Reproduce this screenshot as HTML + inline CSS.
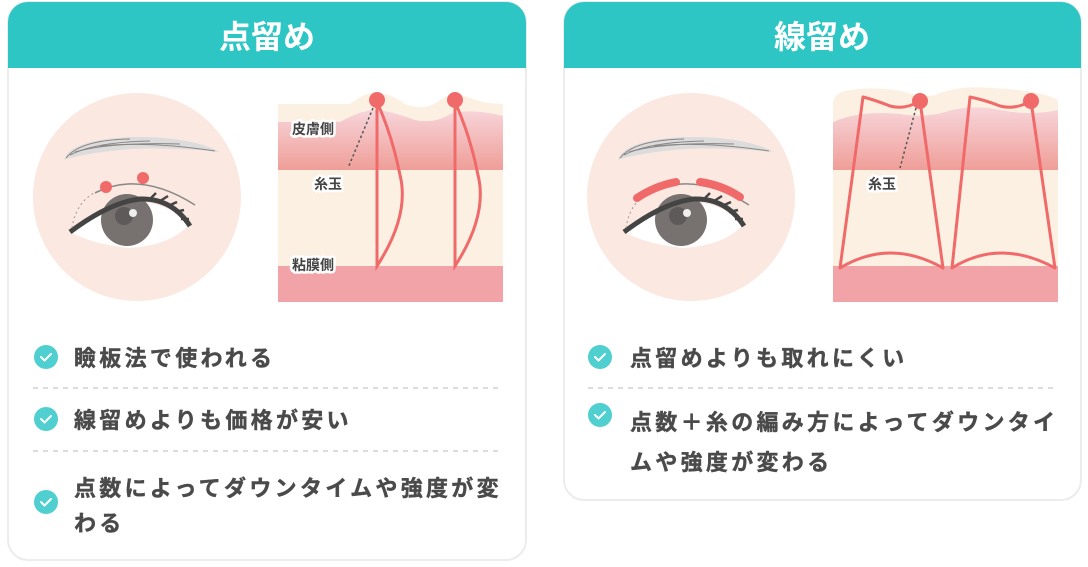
<!DOCTYPE html>
<html><head><meta charset="utf-8"><style>
html,body{margin:0;padding:0;background:#fff;width:1088px;height:567px;overflow:hidden}
svg text{font-family:"Liberation Sans","Noto Sans CJK JP",sans-serif;font-weight:bold}
</style></head><body>
<svg width="1088" height="567" viewBox="0 0 1088 567" xmlns="http://www.w3.org/2000/svg">
<defs>
<linearGradient id="pk" x1="0" y1="0" x2="0" y2="1">
<stop offset="0" stop-color="#f7d5da"/><stop offset="1" stop-color="#ef9e98"/>
</linearGradient>
<g id="chk"><circle cx="0" cy="0" r="12" fill="#4fcfd0"/><path d="M-5 0 L-1.5 3.5 L5 -3" stroke="#fff" stroke-width="2" fill="none" stroke-linecap="round" stroke-linejoin="round"/></g>
</defs>
<!-- cards -->
<rect x="8" y="2" width="518" height="558" rx="20" fill="#fff" stroke="#ececec" stroke-width="2"/>
<path d="M8 68 V22 A20 20 0 0 1 28 2 H506 A20 20 0 0 1 526 22 V68 Z" fill="#2ec5c5"/>
<text x="267" y="48" font-size="32" fill="#fff" text-anchor="middle">点留め</text>
<rect x="564" y="2" width="517" height="498" rx="20" fill="#fff" stroke="#ececec" stroke-width="2"/>
<path d="M564 68 V22 A20 20 0 0 1 584 2 H1061 A20 20 0 0 1 1081 22 V68 Z" fill="#2ec5c5"/>
<text x="822" y="48" font-size="32" fill="#fff" text-anchor="middle">線留め</text>

<!-- left eye -->
<g id="eyeL">
<circle cx="137" cy="197" r="104" fill="#fbe8e1"/>
<path d="M64 160 Q70 140 130 137 Q190 136 220 152 Q160 146 120 150 Q80 154 64 160Z" fill="#dcdcdc"/>
<g stroke="#8a8584" stroke-width="1" fill="none">
<path d="M66 158 Q80 140 130 139"/><path d="M70 155 Q95 142 150 141"/><path d="M75 152 Q110 142 180 144"/><path d="M100 146 Q150 141 215 151"/>
</g>
<path d="M70 232 Q110 205 150 203 Q180 210 188 226 Q170 245 130 248 Q95 245 70 232Z" fill="#fff"/>
<circle cx="127" cy="220" r="26" fill="#777270"/>
<circle cx="124" cy="216" r="9" fill="#5e5a59"/>
<circle cx="133" cy="213" r="4" fill="#eee"/>
<path d="M70 232 Q110 202 140 199 Q172 198 190 226" stroke="#444" stroke-width="5" fill="none"/>
<g stroke="#444" stroke-width="2.5"><path d="M150 199 l6 -6"/><path d="M160 201 l8 -5"/><path d="M168 206 l9 -4"/><path d="M175 212 l9 -2"/><path d="M181 219 l8 0"/></g>
<path d="M95 193 Q140 170 195 205" stroke="#888" stroke-width="1.5" fill="none"/>
<path d="M72 228 Q76 200 100 190" stroke="#999" stroke-width="1" stroke-dasharray="2 3" fill="none"/>
</g>
<circle cx="106" cy="187" r="6" fill="#f06a6a"/>
<circle cx="143" cy="178" r="6" fill="#f06a6a"/>

<!-- right eye -->
<use href="#eyeL" transform="translate(554 0)"/>
<path d="M637 198 Q655 186 676 182" stroke="#f06a6a" stroke-width="8" stroke-linecap="round" fill="none"/>
<path d="M700 182 Q722 185 740 197" stroke="#f06a6a" stroke-width="8" stroke-linecap="round" fill="none"/>

<!-- left diagram -->
<path d="M278 104 H350 Q365 92 377 93 Q392 94 405 104 Q425 112 440 100 Q455 90 470 98 Q485 104 503 104 V266 H278Z" fill="#fcf0e2"/>
<path d="M278 122 H340 Q365 108 380 110 Q400 114 415 120 Q435 124 450 114 Q470 108 503 116 V170 H278Z" fill="url(#pk)"/>
<rect x="278" y="266" width="225" height="36" fill="#f2a3a8"/>
<g stroke="#f06a6a" stroke-width="3" fill="none">
<path d="M377 102 V266 Q410 215 400 175 Q392 135 377 102"/>
<path d="M455 102 V266 Q488 215 478 175 Q470 135 455 102"/>
</g>
<circle cx="377" cy="100" r="8" fill="#f06a6a"/>
<circle cx="455" cy="100" r="8" fill="#f06a6a"/>
<path d="M373 108 L348 168" stroke="#555" stroke-width="1.5" stroke-dasharray="2.5 2.5"/>
<g font-size="14" fill="#444" stroke="#fff" stroke-width="5" paint-order="stroke" stroke-linejoin="round">
<text x="292" y="134">皮膚側</text><text x="314" y="189">糸玉</text><text x="292" y="270">粘膜側</text>
</g>

<!-- right diagram -->
<path d="M833 104 Q833 92 850 90 Q880 86 905 92 Q920 98 935 95 Q960 85 990 88 Q1040 90 1058 100 V266 H833Z" fill="#fcf0e2"/>
<path d="M833 122 Q860 110 900 114 Q925 118 945 112 Q970 104 1000 110 Q1030 116 1058 110 V170 H833Z" fill="url(#pk)"/>
<rect x="833" y="266" width="225" height="36" fill="#f2a3a8"/>
<g stroke="#f06a6a" stroke-width="3" fill="none" stroke-linejoin="round">
<path d="M863 97 L840 268 Q890 238 943 268 L920 101 Q905 110 890 106 Q875 100 863 97Z"/>
<path d="M970 97 L952 268 Q1000 238 1055 268 L1031 101 Q1015 110 1000 106 Q985 100 970 97Z"/>
</g>
<circle cx="920" cy="101" r="8" fill="#f06a6a"/>
<circle cx="1031" cy="101" r="8" fill="#f06a6a"/>
<path d="M916 108 L900 168" stroke="#555" stroke-width="1.5" stroke-dasharray="2.5 2.5"/>
<text x="868" y="189" font-size="14" fill="#444" stroke="#fff" stroke-width="5" paint-order="stroke" stroke-linejoin="round">糸玉</text>

<!-- lists -->
<g font-size="22" fill="#4a4a4a" letter-spacing="3.3" stroke="#4a4a4a" stroke-width="0.4">
<text x="74" y="366">瞼板法で使われる</text>
<text x="74" y="428">線留めよりも価格が安い</text>
<text x="74" y="496">点数によってダウンタイムや強度が変</text>
<text x="74" y="531">わる</text>
<text x="630" y="366">点留めよりも取れにくい</text>
<text x="630" y="430">点数＋糸の編み方によってダウンタイ</text>
<text x="630" y="470">ムや強度が変わる</text>
</g>
<g stroke="#d0d0d0" stroke-width="1.5" stroke-dasharray="5 5">
<path d="M33 388 H502"/><path d="M33 451 H502"/><path d="M588 388 H1057"/>
</g>
<use href="#chk" transform="translate(46 357)"/>
<use href="#chk" transform="translate(46 419)"/>
<use href="#chk" transform="translate(46 502)"/>
<use href="#chk" transform="translate(600 357)"/>
<use href="#chk" transform="translate(600 415)"/>
</svg>
</body></html>
